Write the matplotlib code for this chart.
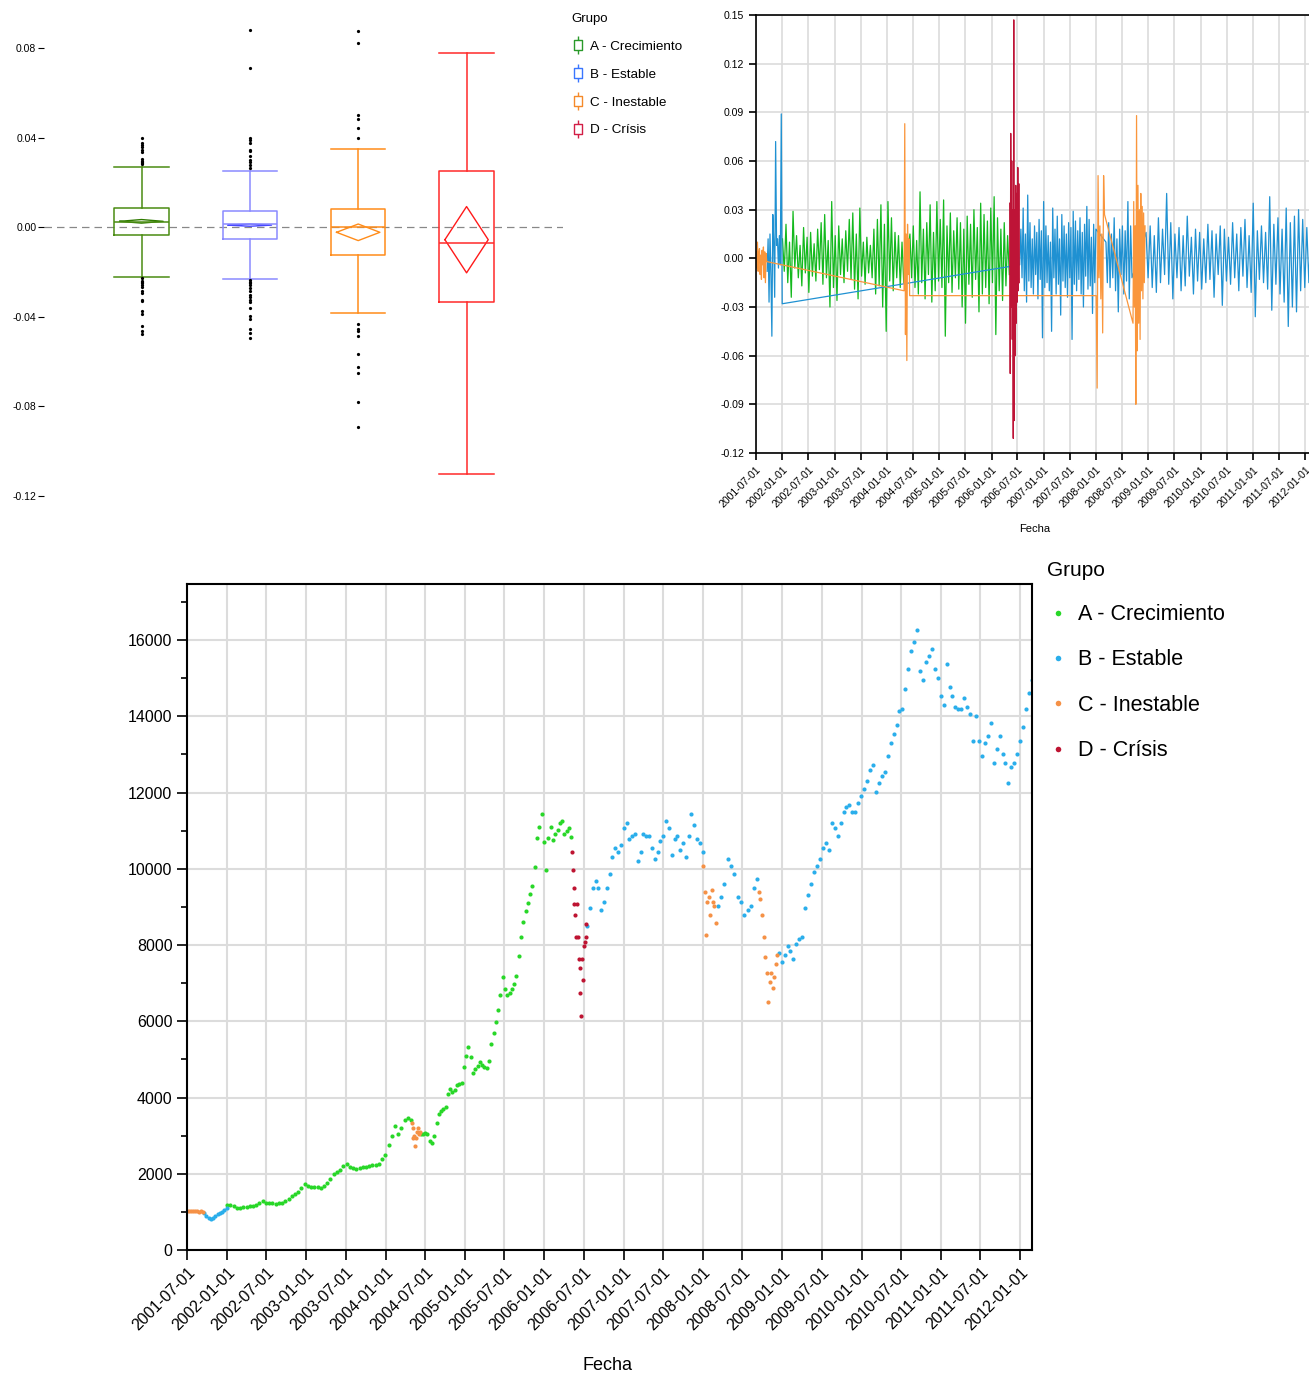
import numpy as np
import pandas as pd
import matplotlib
matplotlib.use('Agg')
import matplotlib.pyplot as plt
from matplotlib.lines import Line2D
from matplotlib.path import Path

plt.rcParams['font.family'] = ['Liberation Sans', 'DejaVu Sans']
plt.rcParams['axes.unicode_minus'] = False

W, H = 1309, 1373

groups = ['A', 'B', 'C', 'D']
group_names = ['A - Crecimiento', 'B - Estable', 'C - Inestable', 'D - Crísis']

# regimes over time: group, first day, last day
seg_group = ['C', 'B', 'A', 'C', 'A', 'D', 'B', 'C', 'B', 'C', 'B']
seg_start = ['2001-07-02', '2001-09-17', '2002-01-02', '2004-04-30', '2004-06-10', '2006-05-08',
             '2006-07-17', '2008-01-02', '2008-03-10', '2008-09-15', '2008-12-15']
seg_end = ['2001-09-14', '2001-12-31', '2004-04-28', '2004-06-08', '2006-05-05', '2006-07-14',
           '2007-12-31', '2008-02-29', '2008-09-08', '2008-12-08', '2012-02-24']

# index level per regime segment
price_c1 = [1020, 1030, 1015, 1025, 1010, 1020, 1005, 1015, 1000]
price_b1 = [960, 900, 850, 820, 830, 880, 950, 980, 1000, 1050, 1100]
price_a1 = [1170, 1180, 1150, 1110, 1100, 1120, 1130, 1150, 1160, 1180, 1230, 1290, 1240, 1230, 1220,
            1215, 1230, 1240, 1290, 1350, 1420, 1465, 1530, 1620, 1720, 1680, 1640, 1650, 1640, 1620,
            1690, 1760, 1850, 1990, 2050, 2110, 2200, 2250, 2180, 2140, 2120, 2160, 2180, 2170, 2200,
            2230, 2240, 2260, 2380, 2500, 2750, 2990, 3250, 3050, 3200, 3400, 3460, 3400]
price_c2 = [3330, 3200, 2950, 3000, 2720, 2950, 3100, 3200, 3050, 3100]
price_a2 = [3050, 3050, 3070, 3050, 2870, 2810, 2990, 3340, 3560, 3650, 3700, 3750, 4100, 4220, 4140,
            4200, 4340, 4350, 4380, 4800, 5100, 5330, 5050, 4650, 4750, 4820, 4920, 4850, 4800, 4780,
            4950, 5400, 5700, 5980, 6300, 6700, 7150, 6850, 6700, 6750, 6850, 6980, 7200, 7700, 8210,
            8600, 8900, 9100, 9350, 9550, 10050, 10800, 11100, 11430, 10700, 9960, 10800, 11100, 10750,
            10900, 11020, 11200, 11250, 10900, 11000, 11080, 10840]
price_d1 = [10430, 9960, 9490, 9080, 8790, 8210, 9080, 8210, 7620, 7390, 6740, 6150, 7620, 7090,
            7970, 8090, 8560, 8210]
price_b2 = [8500, 8970, 9500, 9670, 9500, 8910, 9140, 9500, 9850, 10320, 10550, 10430, 10610, 11080,
            11200, 10790, 10850, 10900, 10200, 10430, 10900, 10850, 10850, 10550, 10260, 10430, 10730,
            10850, 11250, 11080, 10370, 10790, 10850, 10490, 10670, 10320, 10850, 11430, 11140, 10790,
            10670, 10430]
price_c3 = [10080, 9380, 8260, 9140, 9260, 8790, 9440, 9140, 9030, 8580]
price_b3 = [9030, 9260, 9610, 10260, 10080, 9850, 9260, 9140, 8790, 8910, 9030, 9500, 9730]
price_c4 = [9380, 9200, 8790, 8210, 7680, 7270, 6510, 7030, 7270, 6860, 7150, 7500, 7740]
price_b4 = [7800, 7560, 7740, 7970, 7850, 7620, 8030, 8150, 8210, 8970, 9320, 9610, 9910, 10080, 10260,
            10550, 10670, 10490, 11200, 11080, 10850, 11200, 11490, 11610, 11670, 11490, 11490, 11720,
            11900, 12080, 12310, 12600, 12720, 12020, 12250, 12430, 12540, 12950, 13310, 13540, 13770,
            14130, 14190, 14710, 15240, 15710, 15940, 16260, 15180, 14950, 15420, 15590, 15770, 15240,
            15010, 14540, 14300, 15360, 14770, 14540, 14250, 14190, 14190, 14480, 14250, 14070, 13360,
            14010, 13360, 12950, 13310, 13480, 13830, 12780, 13130, 13480, 13010, 12780, 12250, 12660,
            12780, 13010, 13360, 13720, 14190, 14600, 14950]

# daily returns per regime segment (envelope)
ret_c1 = [0.004, -0.006, 0.010, -0.008, 0.003, 0.006, -0.010, 0.002, -0.013, 0.005, -0.004, 0.007,
          -0.012, 0.004, -0.015, 0.003, -0.002]
ret_b1 = [-0.008, 0.012, -0.027, 0.015, -0.010, -0.048, 0.027, 0.010, -0.024, 0.072, 0.008, 0.012,
          -0.006, 0.014, -0.004, 0.089, -0.028]
ret_a1 = [0.012, -0.008, 0.021, -0.015, 0.010, -0.024, 0.029, -0.006, 0.014, -0.012, 0.008, -0.017,
          0.019, -0.009, 0.013, -0.021, 0.016, -0.011, 0.009, -0.014, 0.018, -0.007, 0.022, -0.016,
          0.027, -0.012, 0.011, -0.030, 0.035, -0.018, 0.014, -0.026, 0.020, -0.010, 0.012, -0.015,
          0.017, -0.008, 0.024, -0.013, 0.028, -0.019, 0.015, -0.025, 0.031, -0.011, 0.010, -0.016,
          0.013, -0.009, 0.008, -0.012, 0.018, -0.022, 0.024, -0.017, 0.033, -0.030, 0.021, -0.045,
          0.035, -0.014, 0.025, -0.020, 0.016, -0.012, 0.014, -0.018, 0.010, -0.015]
ret_c2 = [-0.020, 0.083, -0.047, 0.015, -0.063, 0.021, -0.010, 0.012, -0.023]
ret_a2 = [0.015, -0.012, 0.020, -0.018, 0.011, -0.022, 0.041, -0.015, 0.018, -0.025, 0.022, -0.010,
          0.033, -0.027, 0.016, -0.020, 0.035, -0.014, 0.024, -0.018, 0.036, -0.048, 0.020, -0.015,
          0.028, -0.021, 0.017, -0.012, 0.025, -0.019, 0.022, -0.030, 0.018, -0.040, 0.026, -0.016,
          0.021, -0.024, 0.030, -0.013, 0.019, -0.033, 0.034, -0.022, 0.027, -0.018, 0.023, -0.028,
          0.031, -0.015, 0.038, -0.047, 0.025, -0.020, 0.018, -0.026, 0.022, -0.017, 0.014, -0.010]
ret_d1 = [0.034, -0.071, 0.077, -0.030, 0.060, -0.050, 0.030, -0.111, 0.147, -0.100, 0.030, -0.060,
          0.045, -0.040, 0.040, -0.027, 0.056, -0.020, 0.046, -0.015]
ret_b2 = [-0.004, 0.018, -0.012, 0.031, -0.020, 0.015, -0.027, 0.039, -0.014, 0.022, -0.018, 0.012,
          -0.022, 0.020, -0.010, 0.016, -0.025, 0.024, -0.013, 0.017, -0.049, 0.035, -0.018, 0.020,
          -0.015, 0.014, -0.020, 0.010, -0.045, 0.031, -0.012, 0.018, -0.022, 0.026, -0.016, 0.012,
          -0.035, 0.027, -0.014, 0.020, -0.018, 0.015, -0.024, 0.022, -0.012, 0.019, -0.050, 0.029,
          -0.016, 0.023, -0.020, 0.017, -0.013, 0.025, -0.022, 0.016, -0.030, 0.021, -0.011, 0.032,
          -0.019, 0.024, -0.017, 0.013, -0.034, 0.021, -0.015, 0.018]
ret_c3 = [-0.023, -0.080, 0.051, -0.012, 0.020, -0.025, 0.015, -0.046, 0.051, 0.027]
ret_b3 = [0.010, -0.015, 0.022, -0.018, 0.015, -0.012, 0.025, -0.020, 0.012, -0.033, 0.018, -0.010,
          0.020, -0.022, 0.017, -0.014, 0.035, -0.025, 0.020, -0.012]
ret_c4 = [-0.040, 0.035, -0.030, 0.020, -0.090, 0.088, -0.057, 0.045, -0.040, 0.030, -0.050, 0.040,
          -0.020, 0.032, -0.025, 0.028, -0.015, 0.020]
ret_b4 = [0.016, -0.012, 0.020, -0.018, 0.014, -0.021, 0.025, -0.015, 0.018, -0.010, 0.040, -0.016,
          0.022, -0.025, 0.015, -0.012, 0.019, -0.020, 0.014, -0.017, 0.026, -0.011, 0.013, -0.022,
          0.018, -0.014, 0.016, -0.019, 0.012, -0.015, 0.021, -0.013, 0.017, -0.024, 0.015, -0.010,
          0.020, -0.029, 0.018, -0.014, 0.013, -0.016, 0.022, -0.012, 0.015, -0.020, 0.019, -0.011,
          0.024, -0.018, 0.014, -0.021, 0.034, -0.036, 0.017, -0.013, 0.020, -0.015, 0.016, -0.019,
          0.038, -0.032, 0.021, -0.016, 0.025, -0.022, 0.018, -0.027, 0.031, -0.042, 0.022, -0.030,
          0.026, -0.033, 0.030, -0.020, 0.024, -0.018, 0.019, -0.015, 0.021, -0.013]

seg_price = [price_c1, price_b1, price_a1, price_c2, price_a2, price_d1,
             price_b2, price_c3, price_b3, price_c4, price_b4]
seg_ret = [ret_c1, ret_b1, ret_a1, ret_c2, ret_a2, ret_d1, ret_b2, ret_c3, ret_b3, ret_c4, ret_b4]

# box plot summary of returns by group
box_q1 = [-0.0037, -0.0051, -0.0125, -0.0334]
box_med = [0.0024, 0.0013, 0.0000, -0.0070]
box_q3 = [0.0087, 0.0071, 0.0083, 0.0250]
box_lo = [-0.0222, -0.0231, -0.0382, -0.1104]
box_hi = [0.0268, 0.0250, 0.0349, 0.0778]
box_mean = [0.0026, 0.0009, -0.0023, -0.0056]
box_sd = [0.0008, 0.0005, 0.0037, 0.0148]
out_a = [0.040, 0.0378, 0.0366, 0.0359, 0.0343, 0.0337, 0.0304, 0.0297, 0.0290, 0.0285, 0.0282,
         -0.0228, -0.0240, -0.0246, -0.0251, -0.0257, -0.0265, -0.0284, -0.0294, -0.0324, -0.0328,
         -0.0375, -0.0387, -0.0441, -0.0463, -0.0478]
out_b = [0.0882, 0.0709, 0.0397, 0.0387, 0.0375, 0.0346, 0.0338, 0.0316, 0.0301, 0.0290, 0.0279,
         0.0265, -0.0235, -0.0243, -0.0250, -0.0260, -0.0272, -0.0287, -0.0301, -0.0312, -0.0324,
         -0.0334, -0.0360, -0.0397, -0.0412, -0.0453, -0.0471, -0.0493]
out_c = [0.0875, 0.0822, 0.0503, 0.0484, 0.0441, 0.0397, -0.0431, -0.0456, -0.0463, -0.0488,
         -0.0566, -0.0625, -0.0651, -0.0782, -0.0894]
out_d = []

box_colors = ['#4a8c12', '#8a8aff', '#ff8c1a', '#ff2a2a']
diamond_colors = ['#2f7a00', '#4848ff', '#ff8c1a', '#ff1a1a']
legend_box_colors = ['#2a9a2a', '#3a76ff', '#f58a2a', '#d21e46']
line_colors = {'A': '#14b91e', 'B': '#1f91d2', 'C': '#fa963c', 'D': '#be1437'}
dot_colors = {'A': '#28d728', 'B': '#2aaeeb', 'C': '#f59146', 'D': '#be1432'}

# assemble each group's series in time order
series = {}
for g, s, e, p, r in zip(seg_group, seg_start, seg_end, seg_price, seg_ret):
    t0, t1 = pd.Timestamp(s).value, pd.Timestamp(e).value
    pd_dates = pd.to_datetime(np.linspace(t0, t1, len(p)))
    rt_dates = pd.to_datetime(np.linspace(t0, t1, len(r)))
    d = series.setdefault(g, {'pd': [], 'p': [], 'rd': [], 'r': []})
    d['pd'].extend(pd_dates)
    d['p'].extend(p)
    d['rd'].extend(rt_dates)
    d['r'].extend(r)

fig = plt.figure(figsize=(W / 100, H / 100), dpi=100)


def rect(left, top, right, bottom):
    return [left / W, 1 - bottom / H, (right - left) / W, (bottom - top) / H]


# ---- top left: box plots
ax1 = fig.add_axes(rect(44, 5, 563, 510))
outliers = [out_a, out_b, out_c, out_d]
for i in range(4):
    stats = [dict(q1=box_q1[i], med=box_med[i], q3=box_q3[i], whislo=box_lo[i],
                  whishi=box_hi[i], fliers=outliers[i])]
    c = box_colors[i]
    ax1.bxp(stats, positions=[i + 1], widths=0.5, capwidths=0.5, showfliers=True,
            boxprops=dict(color=c, lw=1.1), whiskerprops=dict(color=c, lw=1.1),
            capprops=dict(color=c, lw=1.1), medianprops=dict(color=c, lw=1.1),
            flierprops=dict(marker='o', ms=1.3, mfc='black', mec='black', ls='none'))
    m, sd, x = box_mean[i], box_sd[i], i + 1
    ax1.plot([x - 0.2, x, x + 0.2, x, x - 0.2], [m, m + sd, m, m - sd, m],
             color=diamond_colors[i], lw=1)
ax1.axhline(0, color='#888888', lw=0.9, ls=(0, (6, 4)), zorder=0)
ax1.set_xlim(0.1, 4.89)
ax1.set_ylim(-0.1263, 0.0992)
ax1.set_yticks([0.08, 0.04, 0.0, -0.04, -0.08, -0.12])
ax1.set_yticklabels(['%.2f' % v for v in [0.08, 0.04, 0.0, -0.04, -0.08, -0.12]])
ax1.tick_params(axis='y', labelsize=7.5, length=4, width=0.8, pad=1.5)
ax1.set_xticks([])
for sp in ax1.spines.values():
    sp.set_visible(False)

box_glyph = Path([(0, 1), (0, 0.5), (-0.45, -0.5), (0.45, -0.5), (0.45, 0.5), (-0.45, 0.5),
                  (-0.45, -0.5), (0, -0.5), (0, -1)],
                 [Path.MOVETO, Path.LINETO, Path.MOVETO, Path.LINETO, Path.LINETO, Path.LINETO,
                  Path.CLOSEPOLY, Path.MOVETO, Path.LINETO])
h1 = [Line2D([], [], ls='none', marker=box_glyph, ms=13, mfc='none', mec=c, mew=1)
      for c in legend_box_colors]
fig.legend(h1, group_names, title='Grupo', loc='upper left',
           bbox_to_anchor=(565 / W, 1 - 6 / H), frameon=False, fontsize=9.7,
           title_fontsize=9.5, alignment='left', borderpad=0, handlelength=1.0,
           handletextpad=0.35, labelspacing=1.15)

# ---- top right: returns over time
ax2 = fig.add_axes(rect(756, 15, 1313, 453))
for g in groups:
    ax2.plot(series[g]['rd'], series[g]['r'], color=line_colors[g], lw=0.9)
ax2.set_ylim(-0.12, 0.15)
ax2.set_yticks(np.arange(-0.12, 0.151, 0.03))
ax2.set_yticklabels(['%.2f' % v for v in np.arange(-0.12, 0.151, 0.03)])

# ---- bottom: index level coloured by group
ax3 = fig.add_axes(rect(187, 584, 1032, 1250))
for g in groups:
    ax3.scatter(series[g]['pd'], series[g]['p'], s=9, color=dot_colors[g], lw=0)
ax3.set_ylim(0, 17469)
ax3.set_yticks(np.arange(0, 16001, 2000))
ax3.set_yticks(np.arange(1000, 17001, 2000), minor=True)

xticks = pd.date_range('2001-07-01', '2012-01-01', freq='6MS')
for ax, fs in [(ax2, 7.6), (ax3, 11.5)]:
    ax.set_xlim(pd.Timestamp('2001-07-01'), pd.Timestamp('2012-02-24'))
    ax.set_xticks(xticks)
    ax.set_xticklabels([d.strftime('%Y-%m-%d') for d in xticks], rotation=45, ha='right',
                       rotation_mode='anchor')
    ax.grid(True, color='#dcdcdc', lw=1.2 if ax is ax2 else 1.5)
    ax.set_axisbelow(True)
    ax.tick_params(labelsize=fs, length=5 if ax is ax2 else 7, width=1.2)

for sp in ax2.spines.values():
    sp.set_linewidth(1.2)
for sp in ax3.spines.values():
    sp.set_linewidth(1.5)
ax3.tick_params(which='minor', length=4, width=1.2)

fig.text(1035 / W, 1 - 529 / H, 'Fecha', ha='center', va='center', fontsize=8)
fig.text(608 / W, 1 - 1366 / H, 'Fecha', ha='center', va='center', fontsize=13)

h3 = [Line2D([], [], ls='none', marker='o', ms=4, mfc=dot_colors[g], mec='none') for g in groups]
fig.legend(h3, group_names, title='Grupo', loc='upper left',
           bbox_to_anchor=(1036 / W, 1 - 550 / H), frameon=False, fontsize=15.5,
           title_fontsize=15, alignment='left', borderpad=0, handlelength=1.0,
           handletextpad=0.45, labelspacing=1.13)

fig.savefig('out.png', dpi=100)
